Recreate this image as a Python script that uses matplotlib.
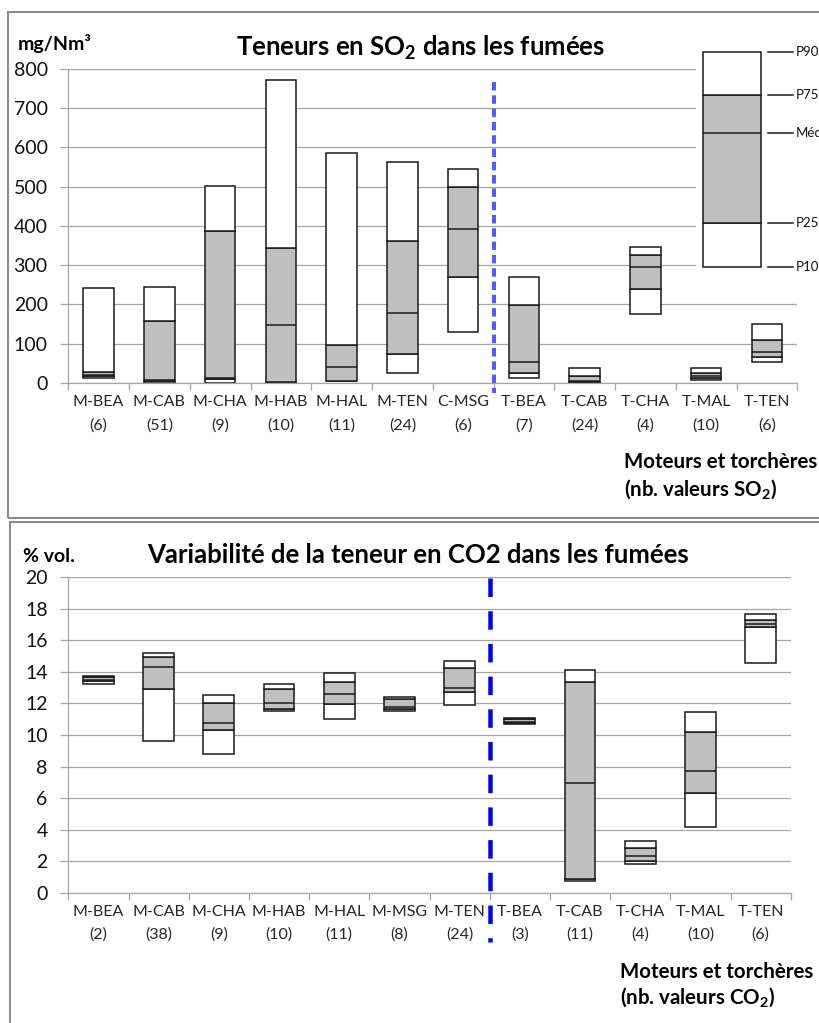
import numpy as np
import matplotlib
matplotlib.use("Agg")
import matplotlib.pyplot as plt
from matplotlib.patches import Rectangle

plt.rcParams["font.family"] = ["Lato", "DejaVu Sans"]
plt.rcParams["mathtext.fontset"] = "custom"

# ---------------- SO2 data (mg/Nm3) ----------------
so2_sites = ["M-BEA", "M-CAB", "M-CHA", "M-HAB", "M-HAL", "M-TEN", "C-MSG",
             "T-BEA", "T-CAB", "T-CHA", "T-MAL", "T-TEN"]
so2_counts = [6, 51, 9, 10, 11, 24, 6, 7, 24, 4, 10, 6]
so2_p10 = [13, 1, 1, 1, 4, 24, 130, 13, 0.5, 176, 8, 52]
so2_p25 = [17, 4, 9, 2, 5, 73, 271, 26, 3, 239, 12, 66]
so2_med = [21, 8, 13, 148, 41, 179, 392, 53, 5, 296, 17, 79]
so2_p75 = [27, 158, 387, 345, 96, 362, 498, 199, 18, 327, 25, 110]
so2_p90 = [242, 245, 502, 771, 585, 562, 544, 270, 38, 347, 38, 149]

# ---------------- CO2 data (% vol.) ----------------
co2_sites = ["M-BEA", "M-CAB", "M-CHA", "M-HAB", "M-HAL", "M-MSG", "M-TEN",
             "T-BEA", "T-CAB", "T-CHA", "T-MAL", "T-TEN"]
co2_counts = [2, 38, 9, 10, 11, 8, 24, 3, 11, 4, 10, 6]
co2_p10 = [13.25, 9.62, 8.82, 11.52, 11.01, 11.52, 11.88, 10.68, 0.74, 1.80, 4.14, 14.55]
co2_p25 = [13.40, 12.92, 10.34, 11.67, 11.94, 11.67, 12.71, 10.75, 0.89, 2.03, 6.34, 16.85]
co2_med = [13.50, 14.31, 10.74, 12.05, 12.60, 11.80, 13.00, 10.85, 6.98, 2.35, 7.70, 17.02]
co2_p75 = [13.65, 14.93, 12.03, 12.90, 13.38, 12.26, 14.23, 11.00, 13.38, 2.85, 10.19, 17.29]
co2_p90 = [13.76, 15.22, 12.54, 13.23, 13.95, 12.43, 14.71, 11.10, 14.14, 3.28, 11.46, 17.70]

# number of engine ("moteur") categories before the flare ("torchère") group
n_engines = 7

# schematic box used as key for the percentile levels
key_levels = [296, 407, 636, 734, 844]
key_labels = ["P10", "P25", "Médiane", "P75", "P90"]

W, H = 819, 1023
EDGE = "#1a1a1a"
GREY_FILL = "#bfbfbf"
GRID = "#a6a6a6"


def fx(px):
    return px / W


def fy(py):
    return 1 - py / H


def draw_boxes(ax, xs, p10, p25, med, p75, p90, width, clip=True, z=2):
    xs = np.asarray(xs, dtype=float)
    p10, p25, med, p75, p90 = map(np.asarray, (p10, p25, med, p75, p90))
    kw = dict(width=width, edgecolor=EDGE, linewidth=1.1, zorder=z, clip_on=clip)
    ax.bar(xs, p25 - p10, bottom=p10, color="white", **kw)
    ax.bar(xs, p75 - p25, bottom=p25, color=GREY_FILL, **kw)
    ax.bar(xs, p90 - p75, bottom=p75, color="white", **kw)
    ax.hlines(med, xs - width / 2, xs + width / 2, color=EDGE, linewidth=1.1,
              zorder=z + 0.1, clip_on=clip)


def style_axes(ax, labels, counts, ymax, ystep):
    n = len(labels)
    ax.set_xlim(-0.5, n - 0.5)
    ax.set_ylim(0, ymax)
    ax.set_yticks(np.arange(0, ymax + ystep / 2, ystep))
    ax.set_axisbelow(True)
    ax.yaxis.grid(True, color=GRID, linewidth=0.9)
    for s in ("top", "right"):
        ax.spines[s].set_visible(False)
    for s in ("left", "bottom"):
        ax.spines[s].set_color(GRID)
        ax.spines[s].set_linewidth(0.9)
    ax.set_xticks(np.arange(n))
    ax.set_xticklabels([f"{l}\n({c})" for l, c in zip(labels, counts)],
                       fontsize=11.5, linespacing=1.75, color="#262626")
    ax.set_xticks(np.arange(-0.5, n, 1), minor=True)
    ax.tick_params(axis="x", which="major", length=0, pad=9)
    ax.tick_params(axis="x", which="minor", length=5, color=GRID, width=0.9)
    ax.tick_params(axis="y", length=5.8, color=GRID, width=0.9, pad=9,
                   labelsize=14, labelcolor="#111111")


def divider(ax, x, y0, y1, color, lw_px, dash_px, gap_px):
    lw = lw_px * 0.72
    ax.plot([x, x], [y0, y1], color=color, linewidth=lw, clip_on=False,
            zorder=3, solid_capstyle="butt",
            linestyle=(0, (dash_px * 0.72 / lw, gap_px * 0.72 / lw)))


fig = plt.figure(figsize=(W / 100, H / 100), dpi=100)

# panel frames
fig.patches.append(Rectangle((fx(8.3), fy(517.5)), 1.2, (517.5 - 11.7) / H,
                             transform=fig.transFigure, fill=False,
                             edgecolor="#8c8c8c", linewidth=1.5))
fig.patches.append(Rectangle((fx(10), -0.1), 1.2, 0.1 + (1023 - 521.7) / H,
                             transform=fig.transFigure, fill=False,
                             edgecolor="#8c8c8c", linewidth=1.5))

# ---------------- SO2 panel ----------------
ax1 = fig.add_axes([fx(68.3), fy(382.9), (797.3 - 68.3) / W, (382.9 - 69.0) / H])
style_axes(ax1, so2_sites, so2_counts, 800, 100)
x1 = np.arange(len(so2_sites))
draw_boxes(ax1, x1, so2_p10, so2_p25, so2_med, so2_p75, so2_p90, 0.5)
divider(ax1, n_engines - 0.5, 768, -26, "#4f5dff", 4.0, 8.5, 4.8)

# key box in the upper right corner
ax1.add_patch(Rectangle((9.83, 237), 3.0, 620, facecolor="white",
                        edgecolor="none", zorder=1.5, clip_on=False))
kx = 10.43
draw_boxes(ax1, [kx], [key_levels[0]], [key_levels[1]], [key_levels[2]],
           [key_levels[3]], [key_levels[4]], 0.95, clip=False, z=2.5)
for lev, lab in zip(key_levels, key_labels):
    ax1.plot([11.01, 11.43], [lev, lev], color=EDGE, linewidth=1.1,
             clip_on=False, zorder=3)
    ax1.text(11.47, lev, lab, fontsize=9.5, va="center", ha="left",
             clip_on=False, color="#111111")

fig.text(fx(18), fy(50), "mg/Nm³", fontsize=14, fontweight="bold", ha="left",
         va="baseline")
fig.text(fx(421), fy(56), r"Teneurs en SO$_\mathregular{2}$ dans les fumées",
         fontsize=18.5, fontweight="bold", ha="center", va="baseline")
fig.text(fx(624), fy(461.7), "Moteurs et torchères", fontsize=14.8,
         fontweight="bold", ha="left", va="center")
fig.text(fx(624), fy(490), r"(nb. valeurs SO$_\mathregular{2}$)", fontsize=14.8,
         fontweight="bold", ha="left", va="center")

# ---------------- CO2 panel ----------------
ax2 = fig.add_axes([fx(68.3), fy(892.7), (790.7 - 68.3) / W, (892.7 - 577.3) / H])
style_axes(ax2, co2_sites, co2_counts, 20, 2)
x2 = np.arange(len(co2_sites))
draw_boxes(ax2, x2, co2_p10, co2_p25, co2_med, co2_p75, co2_p90, 0.51)
divider(ax2, n_engines - 0.5, 19.95, -3.13, "#0000ff", 4.5, 18.5, 14.2)

fig.text(fx(23), fy(562), "% vol.", fontsize=14, fontweight="bold", ha="left",
         va="baseline")
fig.text(fx(418), fy(563), "Variabilité de la teneur en CO2 dans les fumées",
         fontsize=18.5, fontweight="bold", ha="center", va="baseline")
fig.text(fx(620), fy(971.7), "Moteurs et torchères", fontsize=14.8,
         fontweight="bold", ha="left", va="center")
fig.text(fx(620), fy(998), r"(nb. valeurs CO$_\mathregular{2}$)", fontsize=14.8,
         fontweight="bold", ha="left", va="center")

fig.savefig("out.png", dpi=100)
